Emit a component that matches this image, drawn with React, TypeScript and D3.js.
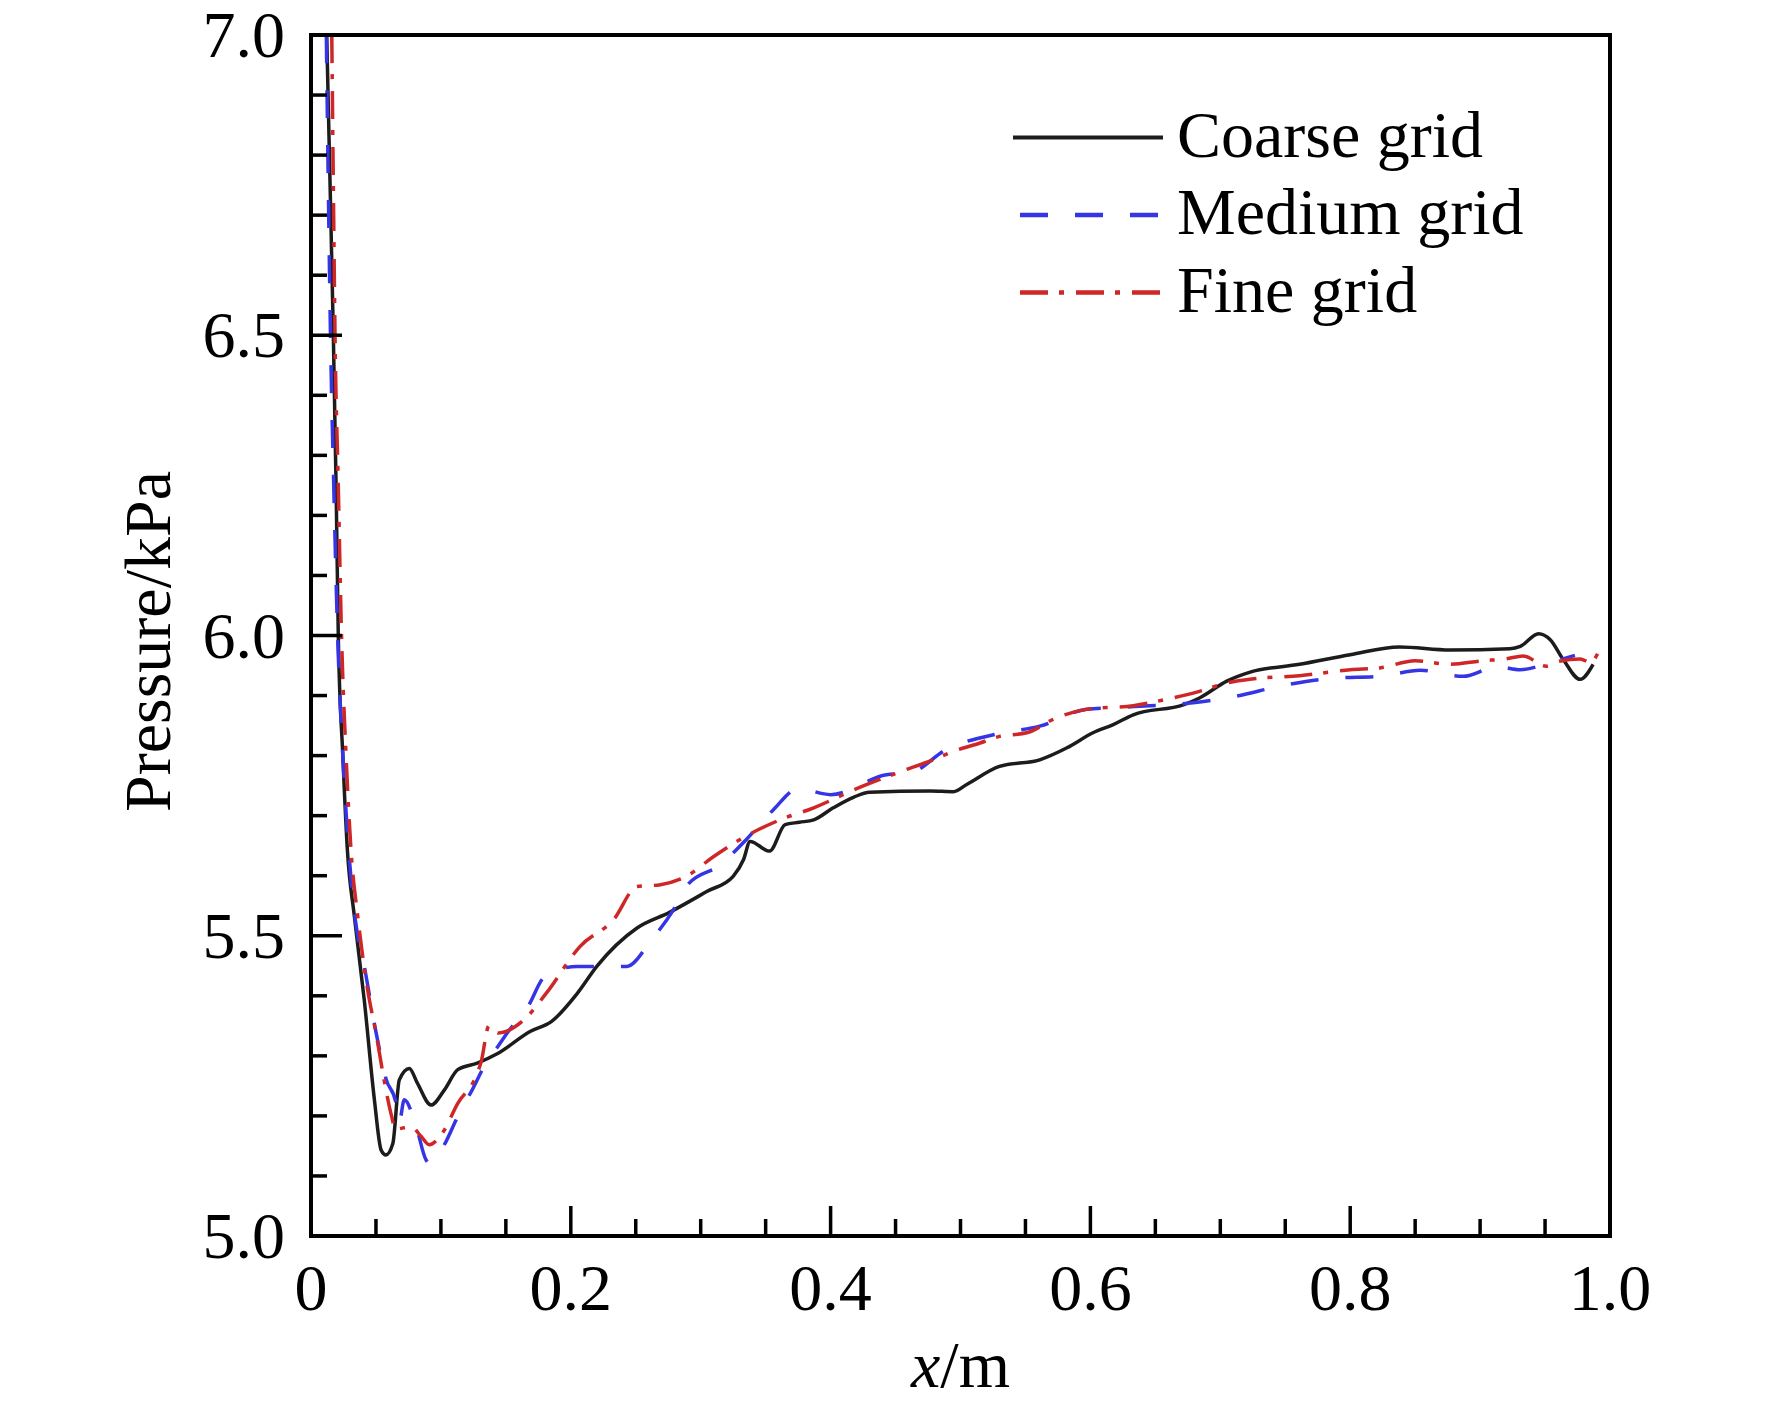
import * as d3 from "d3";

const WIDTH = 1772;
const HEIGHT = 1407;
const FRAME = { left: 311, right: 1610, top: 35, bottom: 1236 };
const FONT = "'Liberation Serif', 'Times New Roman', serif";

// [x (m), pressure (kPa)]
const COARSE: [number, number][] = [
  [0.0121, 7.0], [0.0147, 6.75], [0.0172, 6.5], [0.0193, 6.25], [0.021, 6.0],
  [0.0245, 5.8], [0.028, 5.643], [0.0334, 5.532], [0.041, 5.393], [0.0488, 5.227],
  [0.054, 5.143], [0.0577, 5.135], [0.063, 5.154], [0.068, 5.26], [0.0757, 5.279],
  [0.082, 5.254], [0.0924, 5.218], [0.1026, 5.243], [0.113, 5.277], [0.128, 5.288],
  [0.1437, 5.304], [0.169, 5.341], [0.185, 5.357], [0.205, 5.404], [0.22, 5.449],
  [0.251, 5.513], [0.276, 5.539], [0.305, 5.574], [0.325, 5.599], [0.333, 5.627],
  [0.338, 5.657], [0.353, 5.641], [0.365, 5.685], [0.376, 5.689], [0.387, 5.693],
  [0.402, 5.713], [0.418, 5.731], [0.43, 5.739], [0.477, 5.741], [0.4945, 5.74],
  [0.5048, 5.752], [0.53, 5.782], [0.561, 5.793], [0.582, 5.813], [0.602, 5.838],
  [0.618, 5.852], [0.633, 5.868], [0.672, 5.885], [0.684, 5.896], [0.705, 5.924],
  [0.723, 5.939], [0.761, 5.952], [0.8, 5.968], [0.838, 5.981], [0.877, 5.976],
  [0.923, 5.978], [0.931, 5.982], [0.945, 6.003], [0.954, 5.993], [0.964, 5.96],
  [0.977, 5.927], [0.987, 5.952],
];

const MEDIUM: [number, number][] = [
  [0.0118, 7.0], [0.0133, 6.75], [0.015, 6.5], [0.0175, 6.25], [0.0205, 6.0],
  [0.0245, 5.8], [0.029, 5.643], [0.036, 5.499], [0.04, 5.46], [0.05, 5.34],
  [0.058, 5.26], [0.0654, 5.222], [0.068, 5.19], [0.0718, 5.227], [0.081, 5.182],
  [0.0885, 5.127], [0.091, 5.121], [0.101, 5.146], [0.113, 5.199], [0.124, 5.243],
  [0.136, 5.293], [0.144, 5.316], [0.151, 5.338], [0.167, 5.382], [0.18, 5.432],
  [0.205, 5.449], [0.221, 5.449], [0.243, 5.449], [0.262, 5.493], [0.279, 5.543],
  [0.29, 5.585], [0.315, 5.618], [0.335, 5.66], [0.356, 5.71], [0.375, 5.745],
  [0.4, 5.735], [0.443, 5.768], [0.461, 5.771], [0.489, 5.81], [0.53, 5.837],
  [0.561, 5.849], [0.597, 5.877], [0.638, 5.882], [0.679, 5.888], [0.71, 5.898],
  [0.749, 5.917], [0.787, 5.929], [0.823, 5.932], [0.854, 5.942], [0.887, 5.932],
  [0.913, 5.948], [0.931, 5.943], [0.954, 5.955], [0.973, 5.967],
];

const FINE: [number, number][] = [
  [0.016, 7.0], [0.0172, 6.75], [0.0185, 6.5], [0.021, 6.25], [0.0235, 6.0],
  [0.027, 5.8], [0.0308, 5.643], [0.036, 5.532], [0.0436, 5.41], [0.05, 5.338],
  [0.0577, 5.243], [0.062, 5.2], [0.065, 5.178], [0.077, 5.182], [0.0847, 5.166],
  [0.091, 5.152], [0.101, 5.171], [0.113, 5.221], [0.127, 5.266], [0.131, 5.29],
  [0.137, 5.35], [0.144, 5.338], [0.164, 5.36], [0.181, 5.404], [0.207, 5.482],
  [0.233, 5.527], [0.251, 5.582], [0.269, 5.585], [0.289, 5.599], [0.31, 5.632],
  [0.335, 5.666], [0.361, 5.693], [0.387, 5.713], [0.418, 5.743], [0.451, 5.771],
  [0.479, 5.793], [0.4945, 5.807], [0.515, 5.821], [0.53, 5.832], [0.551, 5.838],
  [0.574, 5.863], [0.597, 5.877], [0.633, 5.883], [0.659, 5.894], [0.684, 5.907],
  [0.705, 5.921], [0.726, 5.928], [0.761, 5.933], [0.8, 5.943], [0.823, 5.946],
  [0.85, 5.958], [0.877, 5.952], [0.902, 5.958], [0.92, 5.961], [0.933, 5.966],
  [0.951, 5.949], [0.961, 5.957], [0.977, 5.961], [0.985, 5.955], [0.991, 5.972],
];

const X_TICKS = [0, 0.2, 0.4, 0.6, 0.8, 1.0];
const X_TICK_LABELS = ["0", "0.2", "0.4", "0.6", "0.8", "1.0"];
const Y_TICKS = [5.0, 5.5, 6.0, 6.5, 7.0];
const Y_TICK_LABELS = ["5.0", "5.5", "6.0", "6.5", "7.0"];

const SERIES = [
  { name: "Coarse grid", data: COARSE, color: "#1c1c1c", dash: "none" },
  { name: "Medium grid", data: MEDIUM, color: "#3535e6", dash: "28 27" },
  { name: "Fine grid", data: FINE, color: "#cf2727", dash: "28 11 5 12" },
];

const App = () => {
  const xScale = d3.scaleLinear().domain([0, 1]).range([FRAME.left, FRAME.right]);
  const yScale = d3.scaleLinear().domain([5, 7]).range([FRAME.bottom, FRAME.top]);

  const line = d3
    .line<[number, number]>()
    .x((d) => xScale(d[0]))
    .y((d) => yScale(d[1]))
    .curve(d3.curveMonotoneX);

  const xMinor = xScale.ticks(20);
  const yMinor = yScale.ticks(20);
  const isMajor = (v: number, majors: number[]) => majors.some((m) => Math.abs(m - v) < 1e-6);

  return (
    <svg
      width={WIDTH}
      height={HEIGHT}
      style={{ position: "absolute", left: 0, top: 0, background: "#fff" }}
      fontFamily={FONT}
    >
      <rect x={0} y={0} width={WIDTH} height={HEIGHT} fill="#fff" />

      {/* curves */}
      {SERIES.map((s) => (
        <path
          key={s.name}
          d={line(s.data) ?? ""}
          fill="none"
          stroke={s.color}
          strokeWidth={3.5}
          strokeDasharray={s.dash}
          strokeLinejoin="round"
        />
      ))}

      {/* inward ticks, left and bottom only */}
      <g stroke="#000" strokeWidth={3.5}>
        {xMinor.map((t) => {
          const len = isMajor(t, X_TICKS) ? 30 : 17;
          return (
            <line key={"xt" + t} x1={xScale(t)} x2={xScale(t)} y1={FRAME.bottom} y2={FRAME.bottom - len} />
          );
        })}
        {yMinor.map((t) => {
          const len = isMajor(t, Y_TICKS) ? 31 : 16;
          return (
            <line key={"yt" + t} x1={FRAME.left} x2={FRAME.left + len} y1={yScale(t)} y2={yScale(t)} />
          );
        })}
      </g>

      {/* frame */}
      <rect
        x={FRAME.left}
        y={FRAME.top}
        width={FRAME.right - FRAME.left}
        height={FRAME.bottom - FRAME.top}
        fill="none"
        stroke="#000"
        strokeWidth={4}
      />

      {/* tick labels */}
      <g fontSize={66} fill="#000">
        {X_TICKS.map((t, i) => (
          <text key={"xl" + t} x={xScale(t)} y={1310} textAnchor="middle">
            {X_TICK_LABELS[i]}
          </text>
        ))}
        {Y_TICKS.map((t, i) => (
          <text key={"yl" + t} x={285} y={yScale(t) + 22} textAnchor="end">
            {Y_TICK_LABELS[i]}
          </text>
        ))}
      </g>

      {/* axis titles */}
      <text x={(FRAME.left + FRAME.right) / 2} y={1387} fontSize={66} textAnchor="middle">
        <tspan fontStyle="italic">x</tspan>/m
      </text>
      <text
        transform={`translate(170, ${(FRAME.top + FRAME.bottom) / 2 + 6}) rotate(-90)`}
        fontSize={66}
        textAnchor="middle"
      >
        Pressure/kPa
      </text>

      {/* legend */}
      <g>
        {SERIES.map((s, i) => {
          const y = 137.5 + i * 77.5;
          return (
            <g key={"lg" + s.name}>
              <line
                x1={i === 0 ? 1013 : 1020}
                x2={i === 0 ? 1163 : 1160}
                y1={y}
                y2={y}
                stroke={s.color}
                strokeWidth={i === 0 ? 4 : 4.5}
                strokeDasharray={s.dash}
              />
              <text x={1177} y={y + 19} fontSize={66} fill="#000">
                {s.name}
              </text>
            </g>
          );
        })}
      </g>
    </svg>
  );
};

export default App;
